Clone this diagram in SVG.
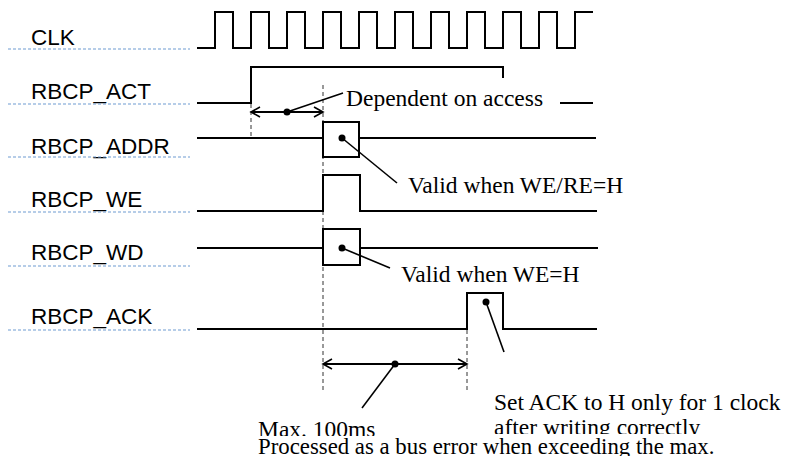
<svg xmlns="http://www.w3.org/2000/svg" width="787" height="456" viewBox="0 0 787 456">
<style>
.lbl{font-family:"Liberation Sans",Arial,sans-serif;font-size:22.5px;fill:#000}
.txt{font-family:"Liberation Serif","Times New Roman",serif;font-size:23.5px;fill:#000}
.dot{stroke:#6f9bd1;stroke-width:1.2;stroke-dasharray:3 2;fill:none}
.sig{stroke:#000;stroke-width:2;fill:none;stroke-linejoin:miter}
.box{stroke:#000;stroke-width:2;fill:#fff}
.dash{stroke:#333;stroke-width:1;stroke-dasharray:4 3;fill:none}
.lead{stroke:#000;stroke-width:1.6;fill:none}
.arr{stroke:#000;stroke-width:1.8;fill:none}
.pt{fill:#000}
</style>
<defs>
<marker id="ah" markerUnits="userSpaceOnUse" markerWidth="12" markerHeight="12" refX="10" refY="6" orient="auto-start-reverse">
<path d="M1,1 L10,6 L1,11" fill="none" stroke="#000" stroke-width="1.6"/>
</marker>
<clipPath id="cAfter"><rect x="480" y="380" width="307" height="54"/></clipPath>
<clipPath id="cMax"><rect x="240" y="400" width="160" height="36"/></clipPath>
</defs>

<g id="guides">
<line class="dash" x1="251" y1="104" x2="251" y2="138"/>
<line class="dash" x1="323" y1="85" x2="323" y2="390"/>
<line class="dash" x1="467" y1="330" x2="467" y2="390"/>
</g>

<g id="clk">
<text class="lbl" x="31" y="45">CLK</text>
<line class="dot" x1="8" y1="49" x2="190" y2="49"/>
<path class="sig" d="M197,48 H215 V12 H233 V48 H251 V12 H269 V48 H287 V12 H305 V48 H323 V12 H341 V48 H359 V12 H377 V48 H395 V12 H413 V48 H431 V12 H449 V48 H467 V12 H485 V48 H503 V12 H521 V48 H539 V12 H557 V48 H575 V12 H593"/>
</g>

<g id="act">
<text class="lbl" x="31" y="99">RBCP_ACT</text>
<line class="dot" x1="8" y1="104" x2="190" y2="104"/>
<path class="sig" d="M197,103 H251 V67 H503 V78"/>
<line class="sig" x1="560" y1="103" x2="593" y2="103"/>
</g>

<g id="addr">
<text class="lbl" x="31" y="154">RBCP_ADDR</text>
<line class="dot" x1="8" y1="157" x2="190" y2="157"/>
<line class="sig" x1="197" y1="138" x2="596" y2="138"/>
<rect class="box" x="323" y="122" width="36" height="35"/>
</g>

<g id="we">
<text class="lbl" x="31" y="207">RBCP_WE</text>
<line class="dot" x1="8" y1="212" x2="190" y2="212"/>
<path class="sig" d="M197,211 H323 V175 H360 V211 H597"/>
</g>

<g id="wd">
<text class="lbl" x="31" y="260">RBCP_WD</text>
<line class="dot" x1="8" y1="266" x2="190" y2="266"/>
<line class="sig" x1="197" y1="248" x2="598" y2="248"/>
<rect class="box" x="323" y="229" width="37" height="36"/>
</g>

<g id="ack">
<text class="lbl" x="31" y="324">RBCP_ACK</text>
<line class="dot" x1="8" y1="330" x2="190" y2="330"/>
<path class="sig" d="M197,329 H467 V293 H503 V329 H597"/>
</g>

<g id="connectors">
<line class="arr" x1="251" y1="112" x2="323" y2="112" marker-start="url(#ah)" marker-end="url(#ah)"/>
<circle class="pt" cx="287" cy="112" r="3.5"/>
<line class="lead" x1="287" y1="112" x2="343" y2="93"/>

<circle class="pt" cx="342" cy="138" r="3.5"/>
<line class="lead" x1="342" y1="138" x2="397" y2="183"/>

<circle class="pt" cx="342" cy="248" r="3.5"/>
<line class="lead" x1="342" y1="248" x2="390" y2="268"/>

<circle class="pt" cx="486" cy="302" r="3.5"/>
<line class="lead" x1="486" y1="302" x2="504" y2="352"/>

<line class="arr" x1="323" y1="364" x2="467" y2="364" marker-start="url(#ah)" marker-end="url(#ah)"/>
<circle class="pt" cx="395" cy="364" r="3.5"/>
<line class="lead" x1="395" y1="364" x2="362" y2="408"/>
</g>

<g id="labels">
<text class="txt" x="346" y="106">Dependent on access</text>
<text class="txt" x="408" y="193">Valid when WE/RE=H</text>
<text class="txt" x="401" y="282">Valid when WE=H</text>
<text class="txt" x="494" y="410">Set ACK to H only for 1 clock</text>
<text class="txt" x="494" y="435" clip-path="url(#cAfter)">after writing correctly</text>
<text class="txt" x="258" y="437" clip-path="url(#cMax)">Max. 100ms</text>
<text class="txt" x="258" y="454" style="font-size:22.8px">Processed as a bus error when exceeding the max.</text>
</g>
</svg>
